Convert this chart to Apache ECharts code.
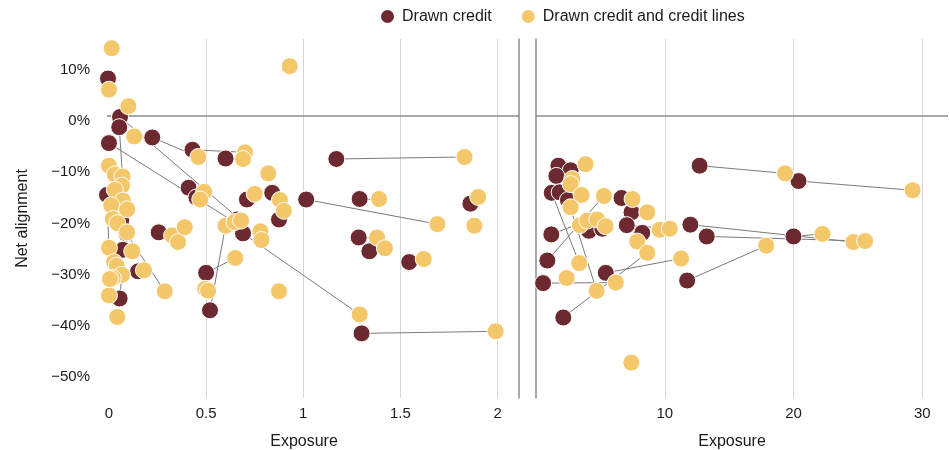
<!DOCTYPE html>
<html><head><meta charset="utf-8">
<script src="https://cdn.jsdelivr.net/npm/echarts@6/dist/echarts.min.js"></script>
<style>html,body{margin:0;padding:0;background:#fff}#c{width:949px;height:450px}</style>
</head><body><div id="c"></div>
<script>
// Tick labels
const leftXTicks = [0, 0.5, 1, 1.5, 2];
const rightXTicks = [10, 20, 30];
const yTicks = [-50, -40, -30, -20, -10, 0, 10];

// Left panel (small exposure): [exposure, net alignment %]
const drawnLeft = [
  [0.057,-0.2],[0.053,-2.2],[0.223,-4.2],[0.0,-5.3],[0.43,-6.6],[0.60,-8.3],[-0.01,-15.4],
  [0.41,-14.0],[0.45,-15.9],[0.71,-16.3],[0.84,-15.0],[0.875,-20.2],[1.015,-16.3],[1.17,-8.4],
  [1.29,-16.2],[1.86,-17.1],[1.285,-23.7],[1.34,-26.4],[1.545,-28.5],[1.30,-42.4],[0.69,-22.9],
  [0.66,-20.2],[0.50,-30.6],[0.52,-37.9],[0.256,-22.7],[0.072,-26.1],[0.15,-30.3],[0.055,-35.6],
  [0.063,-20.4],[-0.005,7.3],[0.09,-22.9]
];
const totalLeft = [
  [0.014,13.2],[0.93,9.7],[0.0,5.1],[0.10,1.9],[0.13,-4.0],[0.46,-8.0],[0.70,-7.1],[0.69,-8.4],
  [0.82,-11.2],[0.0,-9.7],[0.03,-11.4],[0.07,-11.8],[0.067,-13.6],[0.03,-14.4],[0.072,-16.5],
  [0.012,-17.4],[0.094,-18.2],[0.49,-14.8],[0.47,-16.3],[0.75,-15.2],[0.88,-16.4],[0.90,-18.5],
  [1.83,-8.0],[1.69,-21.1],[1.39,-16.2],[1.90,-15.8],[1.88,-21.4],[1.38,-23.7],[1.42,-25.8],
  [1.62,-27.9],[1.29,-38.7],[1.99,-42.0],[0.60,-21.4],[0.646,-20.7],[0.68,-20.4],[0.78,-22.5],
  [0.785,-24.2],[0.65,-27.7],[0.495,-33.7],[0.51,-34.1],[0.875,-34.2],[0.02,-20.1],[0.043,-20.9],
  [0.093,-22.7],[0.325,-23.3],[0.356,-24.6],[0.39,-21.7],[0.0,-25.7],[0.12,-26.4],[0.026,-28.5],
  [0.04,-29.2],[0.067,-31.0],[0.02,-31.6],[0.18,-30.1],[0.287,-34.2],[0.0,-35.0],[0.043,-39.2],
  [0.005,-31.8]
];
// pairs [drawn index, drawn+lines index]
const linksLeft = [
  [2,5],[4,6],[5,7],[0,34],[3,33],[1,11],[6,47],[30,54],[27,51],[22,37],[23,32],[20,30],
  [13,22],[12,23],[19,31],[14,24],[16,27],[17,28],[18,29],[15,25],[29,2],[24,44],[26,53]
];

// Right panel (large exposure)
const drawnRight = [
  [1.74,-9.7],[2.69,-10.6],[1.58,-11.7],[1.22,-15.0],[1.84,-14.9],[2.48,-16.4],[6.64,-16.0],
  [7.42,-18.8],[7.05,-21.3],[8.25,-22.8],[4.11,-22.4],[5.15,-22.0],[1.19,-23.1],[0.88,-28.2],
  [0.55,-32.6],[5.42,-30.6],[2.12,-39.3],[12.71,-9.7],[20.39,-12.7],[11.99,-21.2],[13.26,-23.5],
  [20.0,-23.5],[11.74,-32.1]
];
const totalRight = [
  [3.85,-9.4],[2.82,-12.3],[2.69,-13.3],[3.54,-15.4],[5.27,-15.6],[2.69,-17.8],[7.50,-16.2],
  [8.64,-18.8],[9.61,-22.2],[10.39,-22.0],[7.86,-24.5],[3.41,-21.3],[3.98,-20.4],[4.76,-20.2],
  [5.40,-21.5],[3.36,-28.7],[2.38,-31.6],[6.2,-32.5],[4.71,-34.1],[7.40,-48.1],[19.35,-11.2],
  [29.25,-14.5],[22.25,-23.0],[24.65,-24.6],[25.56,-24.4],[17.88,-25.3],[11.27,-27.8],[8.64,-26.7]
];
const linksRight = [
  [1,0],[3,15],[5,18],[13,4],[12,12],[14,17],[16,27],[15,26],[22,25],[17,20],[18,21],
  [19,23],[20,24],[21,22],[8,9],[9,8],[6,6],[7,7],[10,13]
];

const MAROON = '#6c2a30', GOLD = '#f4c76b', TXT = '#1a1a1a';
const FONT = "'Liberation Sans', Arial, sans-serif";
const chart = echarts.init(document.getElementById('c'));
const linkData = (d, t, links) => links.map(([i, j]) => ({ coords: [d[i], t[j]] }));
const yFmt = v => '{a|' + (v < 0 ? '\u2212' + (-v) : v) + '%}';

function gridMarks(ticks) {
  return {
    silent: true, symbol: 'none', z: 1, label: { show: false },
    data: ticks.filter(v => v !== 0).map(v => ({ xAxis: v, lineStyle: { color: '#d6d6d6', width: 1, type: 'solid' } }))
      .concat([{ yAxis: 0, lineStyle: { color: '#8c8c8c', width: 1.5, type: 'solid' } }])
  };
}
function xAxisCfg(gi, min, max, ticks, pad) {
  return {
    gridIndex: gi, type: 'value', min: min, max: max,
    axisLine: { show: false }, axisTick: { show: false }, splitLine: { show: false },
    axisLabel: { customValues: ticks, fontSize: 15, color: TXT, margin: 8, fontFamily: FONT },
    name: 'Exposure', nameLocation: 'middle', nameGap: 36,
    nameTextStyle: { fontSize: 16, color: TXT, padding: [0, pad, 0, 0], fontFamily: FONT }
  };
}
function yAxisCfg(gi, pos, labels) {
  const a = {
    gridIndex: gi, type: 'value', min: -55, max: 15, position: pos,
    axisTick: { show: false }, splitLine: { show: false },
    axisLine: { show: !labels, lineStyle: { color: '#8c8c8c', width: 1.5 } },
    axisLabel: labels ? { customValues: yTicks, formatter: yFmt, color: TXT, margin: 17,
      rich: { a: { fontSize: 15, color: TXT, fontFamily: FONT, padding: [10, 0, 0, 0] } } } : { show: false }
  };
  if (labels) {
    a.name = 'Net alignment'; a.nameLocation = 'middle'; a.nameGap = 76;
    a.nameTextStyle = { fontSize: 16, color: TXT, fontFamily: FONT };
  }
  return a;
}
const pointStyle = c => ({ color: c, borderColor: '#ffffff', borderWidth: 1, opacity: 1 });

chart.setOption({
  animation: false,
  textStyle: { fontFamily: FONT },
  legend: {
    top: 3, left: 374, icon: 'circle', itemWidth: 15, itemHeight: 15, itemGap: 28,
    textStyle: { fontSize: 16, color: TXT, padding: [0, 0, 0, 2], fontFamily: FONT },
    data: ['Drawn credit', 'Drawn credit and credit lines']
  },
  grid: [
    { left: 107, top: 39, width: 412, height: 359, outerBoundsMode: 'none', containLabel: false },
    { left: 536, top: 39, width: 412, height: 359, outerBoundsMode: 'none', containLabel: false }
  ],
  xAxis: [xAxisCfg(0, -0.01, 2.11, leftXTicks, 18), xAxisCfg(1, 0, 32, rightXTicks, 20)],
  yAxis: [yAxisCfg(0, 'left', true), yAxisCfg(0, 'right', false), yAxisCfg(1, 'left', false)],
  series: [
    { type: 'lines', coordinateSystem: 'cartesian2d', xAxisIndex: 0, yAxisIndex: 0, silent: true, z: 2,
      lineStyle: { color: '#7a7a7a', width: 1, opacity: 1 }, data: linkData(drawnLeft, totalLeft, linksLeft) },
    { type: 'lines', coordinateSystem: 'cartesian2d', xAxisIndex: 1, yAxisIndex: 2, silent: true, z: 2,
      lineStyle: { color: '#7a7a7a', width: 1, opacity: 1 }, data: linkData(drawnRight, totalRight, linksRight) },
    { name: 'Drawn credit', type: 'scatter', xAxisIndex: 0, yAxisIndex: 0, clip: false, z: 3,
      symbolSize: 17, itemStyle: pointStyle(MAROON), data: drawnLeft, markLine: gridMarks(leftXTicks) },
    { name: 'Drawn credit', type: 'scatter', xAxisIndex: 1, yAxisIndex: 2, clip: false, z: 3,
      symbolSize: 17, itemStyle: pointStyle(MAROON), data: drawnRight, markLine: gridMarks(rightXTicks) },
    { name: 'Drawn credit and credit lines', type: 'scatter', xAxisIndex: 0, yAxisIndex: 0, clip: false, z: 4,
      symbolSize: 17, itemStyle: pointStyle(GOLD), data: totalLeft },
    { name: 'Drawn credit and credit lines', type: 'scatter', xAxisIndex: 1, yAxisIndex: 2, clip: false, z: 4,
      symbolSize: 17, itemStyle: pointStyle(GOLD), data: totalRight }
  ]
});
</script></body></html>
